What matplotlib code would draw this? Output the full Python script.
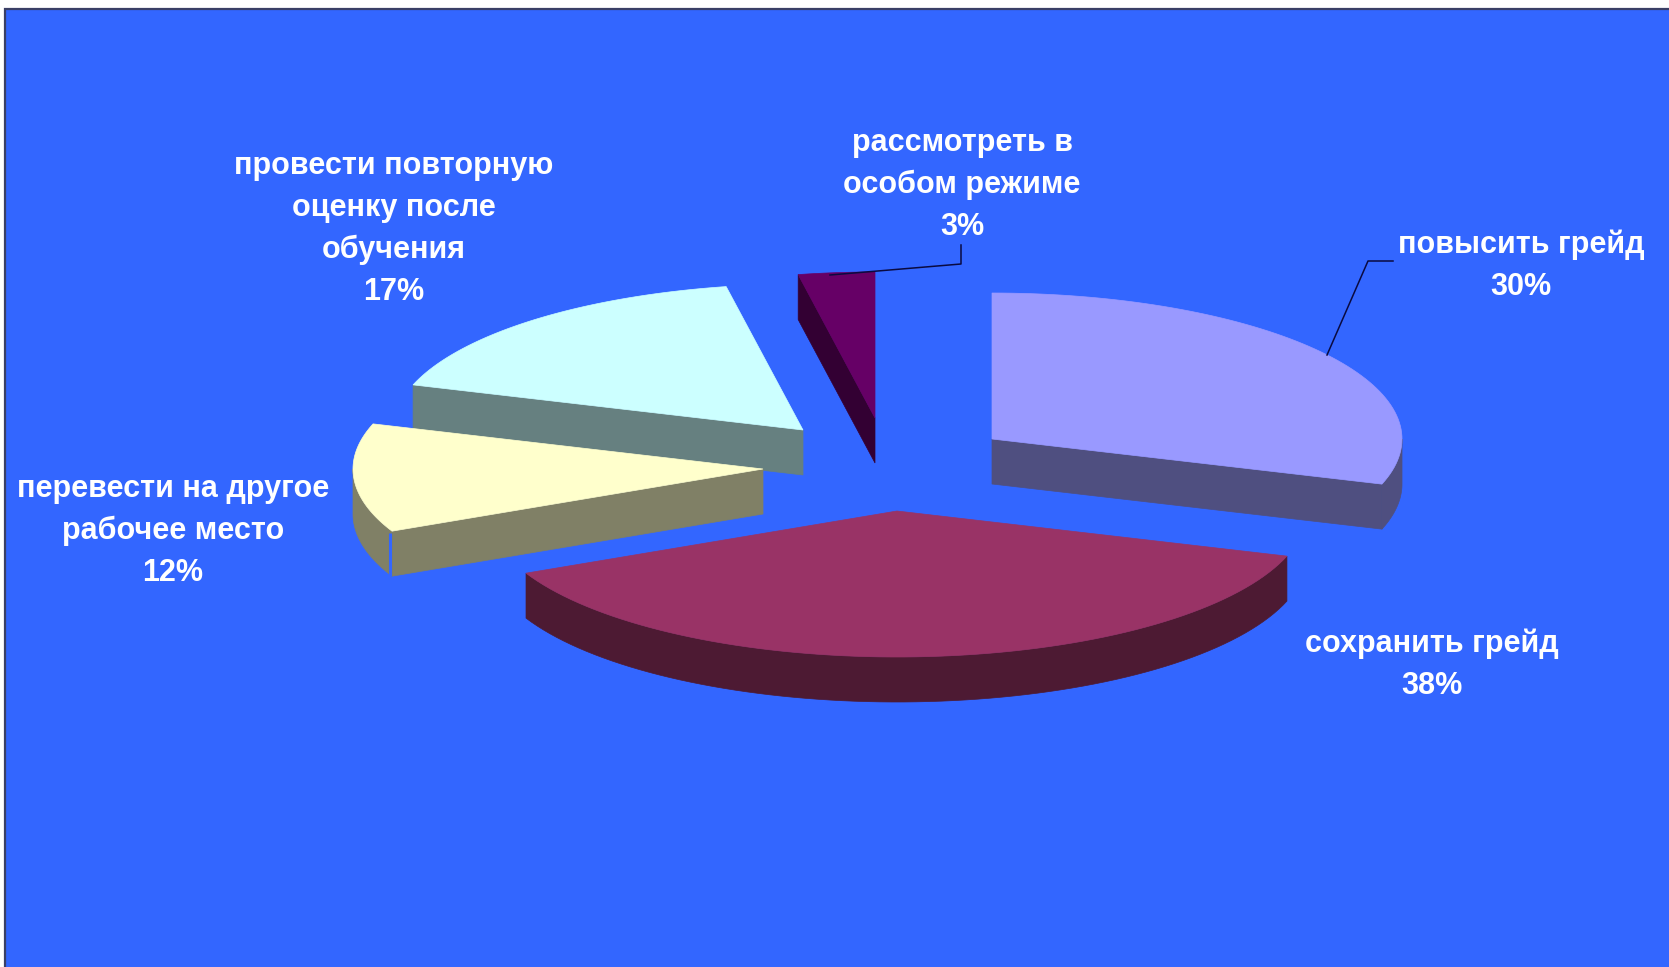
import numpy as np
import matplotlib
matplotlib.use("Agg")
import matplotlib.pyplot as plt
from matplotlib.patches import Polygon, Rectangle

plt.rcParams['font.family'] = ['Liberation Sans', 'DejaVu Sans']

names = ["повысить грейд", "сохранить грейд",
         "перевести на другое\nрабочее место",
         "провести повторную\nоценку после\nобучения",
         "рассмотреть в\nособом режиме"]
shares = [30, 38, 12, 17, 3]
top_colors = ["#9999FF", "#993366", "#FFFFCC", "#CCFFFF", "#660066"]
side_colors = ["#4F4F80", "#4D1A33", "#808066", "#668080", "#330033"]

BG = "#3366FF"
RX, RY, DEPTH = 410, 146, 45

# where each exploded slice has its tip, and the draw order (back to front)
tips = [(992, 439), (897, 511), (763, 469), (803, 430), (875, 418)]
draw_order = [3, 2, 4, 0, 1]
label_pos = [(1521, 266), (1432, 665), (173, 531), (394, 229), (962, 185)]


def rim(tip, a0, a1, n=80):
    """Points of the elliptical rim between two angles (degrees)."""
    t = np.radians(np.linspace(a0, a1, n))
    return np.column_stack((tip[0] + RX * np.cos(t), tip[1] - RY * np.sin(t)))


def draw_slice(ax, tip, a0, a1, top, side):
    """One slice going clockwise from a0 to a1: walls first, then the top."""
    down = np.array([0, DEPTH])
    # straight cut that faces the viewer, if the slice has one
    for a in (a0, a1):
        edge = rim(tip, a, a, 1)[0]
        facing = (a == a1 and np.sin(np.radians(a)) < 0 and np.cos(np.radians(a)) > 0) or \
                 (a == a0 and np.sin(np.radians(a)) > 0 and np.cos(np.radians(a)) < 0) or \
                 (a == a0 and np.sin(np.radians(a)) < 0 and a1 < -180)
        if facing:
            pts = np.array([tip, edge, edge + down, np.array(tip) + down])
            ax.add_patch(Polygon(pts, fc=side, ec=side, lw=0.5))
    # outer wall, only where the rim is on the near side (-180..0)
    lo, hi = max(a1, -180), min(a0, 0)
    if lo < hi:
        arc = rim(tip, hi, lo)
        ax.add_patch(Polygon(np.vstack((arc, (arc + down)[::-1])),
                             fc=side, ec=side, lw=0.5))
    outline = np.vstack(([tip], rim(tip, a0, a1)))
    ax.add_patch(Polygon(outline, fc=top, ec=top, lw=0.5))


fig = plt.figure(figsize=(16.69, 9.67), dpi=100, facecolor="white")
ax = fig.add_axes([0, 0, 1, 1])
ax.set_xlim(0, 1669)
ax.set_ylim(967, 0)
ax.axis("off")
ax.add_patch(Rectangle((4.5, 9), 1700, 1000, fc=BG, ec="#3A3F66", lw=1.6))

angles = 90 - 3.6 * np.cumsum([0] + shares)
for i in draw_order:
    draw_slice(ax, tips[i], angles[i], angles[i + 1], top_colors[i], side_colors[i])

# thin gap between the outer wall and the cut of the 12% slice
gap = rim(tips[2], angles[2], angles[2], 1)[0]
ax.plot([gap[0] - 2, gap[0] - 2], [gap[1] + 2, gap[1] + DEPTH], color=BG, lw=2.2, solid_capstyle="butt")

# leader lines
ax.plot([1327, 1368, 1393], [355, 261, 261], color="#0A0A40", lw=1.1)
ax.plot([830, 961, 961], [275, 264, 245], color="#0A0A40", lw=1.1)

for name, share, (x, y) in zip(names, shares, label_pos):
    ax.text(x, y, f"{name}\n{share}%", color="white", fontsize=22, fontweight="bold",
            ha="center", va="center", linespacing=1.52)

fig.savefig("out.png", dpi=100, facecolor="white")
